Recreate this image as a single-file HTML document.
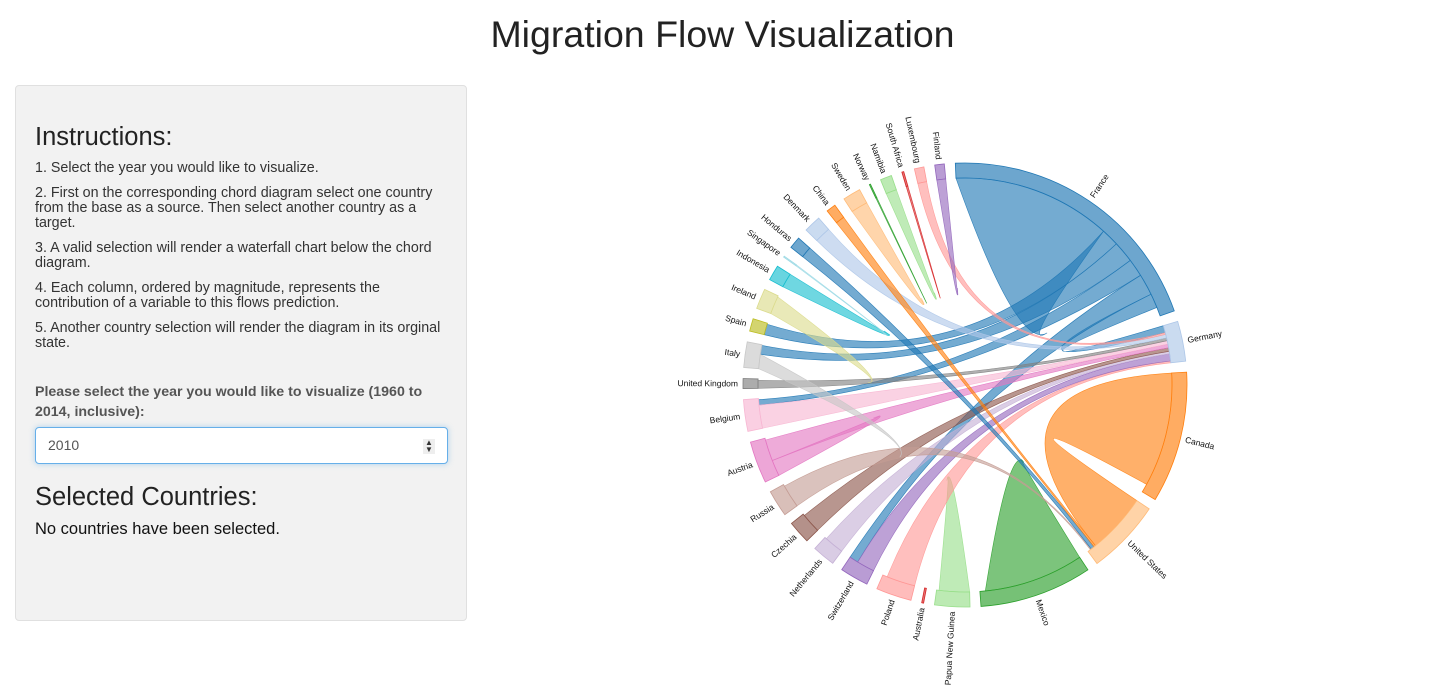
<!DOCTYPE html>
<html><head><meta charset="utf-8">
<style>
body{margin:0;width:1445px;height:699px;background:#fff;font-family:"Liberation Sans",sans-serif;color:#333;position:relative;overflow:hidden}
h1{position:absolute;left:0;width:1445px;top:13px;margin:0;text-align:center;font-weight:normal;font-size:37.5px;color:#222}
#panel{position:absolute;left:15px;top:85px;width:452px;height:536px;background:#f2f2f2;border:1px solid #e0e0e0;border-radius:4px;box-sizing:border-box}
.h3{position:absolute;left:19px;font-size:25.5px;color:#222}
.p{position:absolute;left:19px;width:415px;font-size:14.3px;line-height:15px;color:#333}
#lab{position:absolute;left:19px;top:296px;width:420px;font-weight:bold;font-size:14.2px;line-height:20px;color:#555}
#year{position:absolute;left:19px;top:341px;width:413px;height:37px;box-sizing:border-box;background:#fff;border:1px solid #66afe9;border-radius:4px;box-shadow:0 0 6px rgba(102,175,233,.5);font-size:14px;padding:9px 12px;color:#555}
#spin{position:absolute;right:12px;top:11px;width:12px;height:15px;background:#eee;font-size:8px;line-height:7px;text-align:center;color:#333}
#chart{position:absolute;left:480px;top:70px}
</style></head><body>
<h1>Migration Flow Visualization</h1>
<div id="panel">
 <div class="h3" style="top:37px">Instructions:</div>
 <div class="p" style="top:75px">1. Select the year you would like to visualize.</div>
 <div class="p" style="top:100px">2. First on the corresponding chord diagram select one country from the base as a source. Then select another country as a target.</div>
 <div class="p" style="top:155px">3. A valid selection will render a waterfall chart below the chord diagram.</div>
 <div class="p" style="top:195px">4. Each column, ordered by magnitude, represents the contribution of a variable to this flows prediction.</div>
 <div class="p" style="top:235px">5. Another country selection will render the diagram in its orginal state.</div>
 <div id="lab">Please select the year you would like to visualize (1960 to 2014, inclusive):</div>
 <div id="year">2010<div id="spin">▲<br>▼</div></div>
 <div class="h3" style="top:397px">Selected Countries:</div>
 <div class="p" style="top:436px;font-size:16.5px;color:#111">No countries have been selected.</div>
</div>
<svg id="chart" width="965" height="629"></svg>
<script>
const groupNames=["France","Germany","Canada","United States","Mexico","Papua New Guinea","Australia","Poland","Switzerland","Netherlands","Czechia","Russia","Austria","Belgium","United Kingdom","Italy","Spain","Ireland","Indonesia","Singapore","Honduras","Denmark","China","Sweden","Norway","Namibia","South Africa","Luxembourg","Finland"];
const groupSizes=[73,10.5,34.4,19.6,29.5,9.2,0.5,9.3,7.5,6,6,7,11,8.3,2.6,6.7,3.3,5.3,4,0.3,3.1,4.5,2.5,4.7,0.3,3,0.5,2.5,2.5];
const flowSource=["France","France","France","France","France","France","Canada","Mexico","Papua New Guinea","Poland","Switzerland","Netherlands","Czechia","Russia","Austria","Austria","Belgium","United Kingdom","Italy","Ireland","Indonesia","Singapore","Honduras","Denmark","China","Sweden","Norway","Namibia","South Africa","Luxembourg","Finland"];
const flowTarget=["France","Spain","Italy","Belgium","Switzerland","Germany","United States","United States","Australia","Germany","Germany","Germany","Germany","United States","Germany","Austria","Germany","Germany","Netherlands","United Kingdom","Indonesia","Indonesia","United States","Germany","United States","Sweden","Norway","Namibia","South Africa","Germany","Finland"];
const flowOut=[44.5,5,6,5,6,4,32,28,8.5,8,5,5.5,5.5,6.5,6,4.5,6.5,2.2,4,5,4,0.3,3.1,4.5,2.5,4.7,0.3,3,0.5,2.5,2.5];
const flowIn=[0,3,2.5,1.5,2.5,2,17,0,0,0.5,2,0.7,1,0.3,1,0,1,0.8,0,0,0,0,1,1,0.5,0,0,0,0,0.5,0];
const palette=["#1f77b4","#aec7e8","#ff7f0e","#ffbb78","#2ca02c","#98df8a","#d62728","#ff9896","#9467bd","#c5b0d5","#8c564b","#c49c94","#e377c2","#f7b6d2","#7f7f7f","#c7c7c7","#bcbd22","#dbdb8d","#17becf","#9edae5"];

const NS="http://www.w3.org/2000/svg",svg=document.getElementById('chart');
const cx=485,cy=315,ro=222,ri=207,rot=-2.5,D=Math.PI/180;
const n=groupNames.length,total=groupSizes.reduce((a,b)=>a+b,0),pad=(360-total)/n;
const G=[];let cur=rot;
for(let i=0;i<n;i++){G.push({a0:cur,a1:cur+groupSizes[i],mid:cur+groupSizes[i]/2});cur+=groupSizes[i]+pad;}
function P(a,r){return [cx+r*Math.sin(a*D),cy-r*Math.cos(a*D)];}
function f(p){return p[0].toFixed(2)+","+p[1].toFixed(2);}
const idx=name=>groupNames.indexOf(name);
const ends=groupNames.map(()=>[]);
const S=[],T=[];
for(let k=0;k<flowSource.length;k++){
  const s=idx(flowSource[k]),t=idx(flowTarget[k]);
  if(s===t){ends[s].push({k,role:'s',w:flowOut[k],key:360});}
  else{
    ends[s].push({k,role:'s',w:flowOut[k],key:((G[t].mid-G[s].mid)%360+360)%360});
    ends[t].push({k,role:'t',w:flowIn[k],key:((G[s].mid-G[t].mid)%360+360)%360});
  }
}
ends.forEach((list,g)=>{list.sort((a,b)=>b.key-a.key);let c=G[g].a0;
  list.forEach(e=>{const r={a0:c,a1:c+e.w};c+=e.w;if(e.role==='s')S[e.k]=r;else T[e.k]=r;});});
function arcSeg(a0,a1,r){const p=P(a1,r);return "A"+r+","+r+" 0 "+((a1-a0)>180?1:0)+",1 "+f(p);}
const C=f([cx,cy]);
for(let k=0;k<flowSource.length;k++){
  const s=idx(flowSource[k]),t=idx(flowTarget[k]),sr=S[k];
  let d="M"+f(P(sr.a0,ri))+arcSeg(sr.a0,sr.a1,ri);
  if(s===t){const w=sr.a1-sr.a0,ta=sr.a1+0.35*w,tip=P(ta,ri*0.47),c1=P(ta,ri*0.3);
    d+="Q"+f(c1)+" "+f(tip)+"Q"+f(c1)+" "+f(P(sr.a0,ri))+"Z";}
  else if(flowIn[k]===0){const ta=T[k].a0,tip=P(ta,ri*0.47),c1=P(ta,ri*0.35);
    d+="Q"+f(c1)+" "+f(tip)+"Q"+f(c1)+" "+f(P(sr.a0,ri))+"Z";}
  else{const tr=T[k];d+="Q"+C+" "+f(P(tr.a0,ri))+arcSeg(tr.a0,tr.a1,ri)+"Q"+C+" "+f(P(sr.a0,ri))+"Z";}
  const col=palette[s%20];
  const el=document.createElementNS(NS,'path');
  el.setAttribute('d',d);el.setAttribute('fill',col);el.setAttribute('fill-opacity','0.62');
  el.setAttribute('stroke',col);el.setAttribute('stroke-opacity','0.9');el.setAttribute('stroke-width','0.6');
  
  
  svg.appendChild(el);
}
for(let i=0;i<n;i++){
  const g=G[i],col=palette[i%20];
  const d="M"+f(P(g.a0,ro))+arcSeg(g.a0,g.a1,ro)+"L"+f(P(g.a1,ri))+"A"+ri+","+ri+" 0 "+((g.a1-g.a0)>180?1:0)+",0 "+f(P(g.a0,ri))+"Z";
  const el=document.createElementNS(NS,'path');
  el.setAttribute('d',d);el.setAttribute('fill',col);el.setAttribute('fill-opacity','0.65');
  el.setAttribute('stroke',col);el.setAttribute('stroke-width','0.8');
  
  
  svg.appendChild(el);
  const tx=document.createElementNS(NS,'text');
  const flip=g.mid>180&&g.mid<360;
  tx.setAttribute('transform','translate('+cx+','+cy+') rotate('+(g.mid-90)+') translate('+(ro+5)+',0)'+(flip?' rotate(180)':''));
  tx.setAttribute('text-anchor',flip?'end':'start');tx.setAttribute('dy','0.35em');
  tx.setAttribute('font-size','8.5');tx.setAttribute('font-family','Liberation Sans, sans-serif');tx.setAttribute('fill','#111');
  tx.textContent=groupNames[i];
  
  
  svg.appendChild(tx);
}
</script>
</body></html>
